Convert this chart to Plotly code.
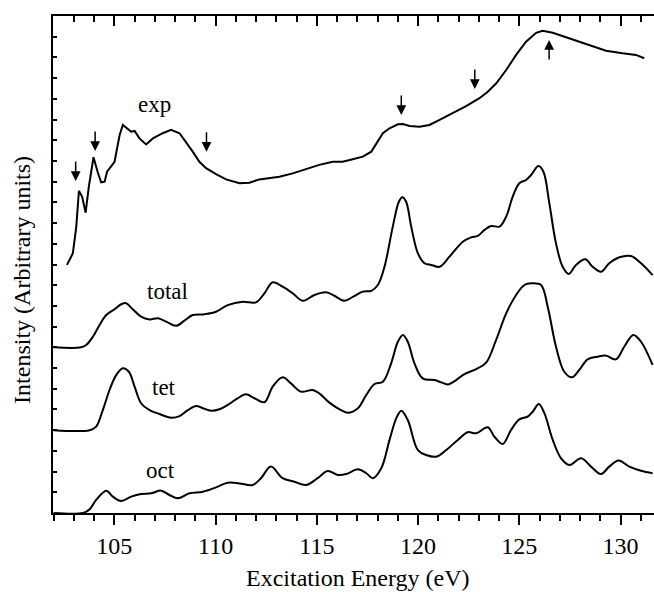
import plotly.graph_objects as go

# ---------------- data (energy in eV, intensity in arbitrary units) ----------------
exp_E = [102.66, 102.95, 103.12, 103.25, 103.41, 103.58, 103.74, 103.97, 104.19, 104.35,
         104.52, 104.64, 105.01, 105.17, 105.26, 105.42, 105.62, 105.83, 106.00, 106.24,
         106.57, 106.90, 107.39, 107.80, 108.22, 108.54, 108.87, 109.20, 109.53, 110.02,
         110.52, 111.18, 111.67, 112.16, 113.15, 113.81, 114.46, 115.12, 115.78, 116.27,
         116.77, 117.27, 117.69, 117.93, 118.26, 118.59, 119.00, 119.25, 119.58, 120.07,
         120.56, 121.06, 121.71, 122.37, 123.03, 123.44, 123.86, 124.35, 124.84, 125.33,
         125.83, 126.15, 126.65, 127.31, 127.96, 128.62, 129.28, 130.10, 130.76, 131.17]
exp_I = [11.98, 12.54, 13.83, 15.56, 15.27, 14.50, 15.76, 17.18, 16.42, 15.97,
         16.00, 16.48, 16.96, 17.69, 18.25, 18.74, 18.58, 18.41, 18.45, 18.09,
         17.80, 18.09, 18.34, 18.50, 18.34, 17.93, 17.45, 16.96, 16.65, 16.36,
         16.11, 15.92, 15.95, 16.11, 16.24, 16.40, 16.60, 16.81, 16.96, 16.96,
         17.08, 17.21, 17.45, 17.85, 18.34, 18.58, 18.77, 18.78, 18.69, 18.65,
         18.74, 18.98, 19.30, 19.65, 20.03, 20.34, 20.75, 21.39, 22.12, 22.76,
         23.19, 23.29, 23.19, 22.97, 22.76, 22.52, 22.32, 22.20, 22.12, 21.96]

total_E = [102.0, 103.36, 103.61, 103.94, 104.27, 104.60, 105.01, 105.34, 105.58, 105.91,
           106.32, 106.74, 107.15, 107.56, 108.05, 108.46, 108.87, 109.45, 110.02, 110.60,
           111.34, 111.99, 112.41, 112.82, 113.31, 113.81, 114.30, 114.88, 115.45, 115.86,
           116.36, 116.80, 117.27, 117.69, 118.01, 118.34, 118.75, 119.05, 119.22, 119.41,
           119.66, 119.99, 120.32, 120.65, 121.06, 121.55, 122.21, 122.62, 122.95, 123.28,
           123.61, 124.02, 124.35, 124.67, 125.00, 125.33, 125.58, 125.94, 126.19, 126.48,
           126.81, 127.14, 127.44, 127.80, 128.26, 128.62, 129.03, 129.44, 129.94, 130.51,
           131.01, 131.58]
total_I = [0.0, 0.0, 0.11, 0.51, 1.08, 1.56, 1.84, 2.08, 2.13, 1.84,
           1.48, 1.35, 1.40, 1.24, 1.04, 1.29, 1.56, 1.60, 1.72, 2.04,
           2.20, 2.17, 2.61, 3.14, 2.93, 2.61, 2.25, 2.53, 2.66, 2.49,
           2.25, 2.45, 2.69, 2.73, 3.01, 3.89, 5.83, 7.03, 7.25, 7.03,
           5.83, 4.54, 4.06, 3.98, 3.89, 4.38, 5.10, 5.31, 5.38, 5.67,
           5.86, 5.83, 6.31, 7.27, 7.92, 8.08, 8.32, 8.76, 8.48, 6.96,
           5.02, 3.89, 3.54, 3.98, 4.25, 3.89, 3.65, 4.06, 4.35, 4.41,
           4.06, 3.49]

tet_E = [102.0, 103.78, 104.10, 104.43, 104.76, 105.09, 105.42, 105.72, 106.00, 106.32,
         106.74, 107.23, 107.80, 108.22, 108.63, 109.04, 109.37, 109.78, 110.19, 110.60,
         111.09, 111.50, 111.92, 112.41, 112.82, 113.31, 113.72, 114.21, 114.79, 115.12,
         115.62, 116.19, 116.53, 117.03, 117.44, 117.85, 118.26, 118.67, 119.00, 119.25,
         119.49, 119.82, 120.23, 120.81, 121.14, 121.47, 121.88, 122.29, 122.87, 123.36,
         123.85, 124.35, 124.84, 125.25, 125.58, 126.07, 126.40, 126.81, 127.22, 127.60,
         127.96, 128.37, 128.87, 129.28, 129.77, 130.18, 130.63, 131.01, 131.58]
tet_I = [0.0, 0.0, 0.17, 0.97, 1.94, 2.66, 2.99, 2.82, 2.10, 1.30,
         0.97, 0.78, 0.60, 0.68, 0.97, 1.17, 1.06, 0.94, 1.01, 1.22,
         1.54, 1.73, 1.54, 1.35, 2.10, 2.55, 2.26, 1.86, 1.94, 1.78,
         1.33, 0.97, 0.84, 1.06, 1.70, 2.23, 2.34, 3.23, 4.27, 4.60,
         4.27, 3.23, 2.50, 2.42, 2.31, 2.21, 2.42, 2.71, 2.95, 3.26,
         4.35, 5.64, 6.53, 7.01, 7.09, 7.01, 5.96, 4.03, 2.82, 2.55,
         2.91, 3.42, 3.55, 3.60, 3.42, 4.03, 4.60, 4.27, 3.15]

oct_E = [102.0, 103.45, 103.78, 104.10, 104.60, 104.93, 105.34, 105.83, 106.32, 106.82,
         107.31, 107.72, 108.13, 108.71, 109.37, 110.02, 110.60, 111.18, 111.83, 112.24,
         112.73, 113.31, 113.89, 114.46, 115.04, 115.53, 116.03, 116.45, 117.03, 117.44,
         117.77, 118.18, 118.59, 118.92, 119.17, 119.49, 119.99, 120.40, 120.89, 121.39,
         121.96, 122.45, 122.87, 123.44, 123.77, 124.18, 124.59, 125.00, 125.41, 125.66,
         125.96, 126.24, 126.65, 127.06, 127.47, 128.05, 128.54, 129.03, 129.44, 129.90,
         130.43, 131.01, 131.58]
oct_I = [0.0, 0.0, 0.18, 0.63, 1.08, 0.79, 0.58, 0.79, 0.92, 0.95,
         1.08, 0.87, 0.71, 0.95, 1.03, 1.24, 1.46, 1.43, 1.35, 1.68,
         2.24, 1.68, 1.51, 1.35, 1.68, 2.03, 1.84, 1.88, 2.11, 1.92,
         1.68, 2.16, 3.53, 4.57, 4.94, 4.49, 3.04, 2.80, 2.72, 3.04,
         3.53, 3.90, 3.85, 4.14, 3.68, 3.33, 4.01, 4.52, 4.65, 4.89,
         5.26, 4.81, 3.53, 2.64, 2.32, 2.64, 2.24, 1.88, 2.24, 2.53,
         2.24, 2.04, 1.92]

offsets = {"total": 8.0, "tet": 4.0, "oct": 0.0}

# curve labels: (text, energy, intensity)
labels = [("exp", 107.0, 19.75), ("total", 107.64, 10.71),
          ("tet", 107.44, 6.04), ("oct", 107.29, 2.06)]

# arrows on experimental curve: energy, tip intensity, direction (1 = down, -1 = up)
arrow_E = [103.09, 104.05, 109.55, 119.17, 122.80, 126.47]
arrow_I = [16.03, 17.48, 17.45, 19.22, 20.47, 22.84]
arrow_dir = [1, 1, 1, 1, 1, -1]

x_ticks = [105, 110, 115, 120, 125, 130]

# ---------------- figure ----------------
FONT = "Liberation Serif"
fig = go.Figure()
line = dict(color="black", width=2)
smooth = dict(color="black", width=2, shape="spline", smoothing=1.0)

fig.add_trace(go.Scatter(x=exp_E, y=exp_I, mode="lines", line=line, hoverinfo="skip"))
fig.add_trace(go.Scatter(x=total_E, y=[v + offsets["total"] for v in total_I], mode="lines",
                         line=smooth))
fig.add_trace(go.Scatter(x=tet_E, y=[v + offsets["tet"] for v in tet_I], mode="lines",
                         line=smooth))
fig.add_trace(go.Scatter(x=oct_E, y=[v + offsets["oct"] for v in oct_I], mode="lines",
                         line=smooth))

annotations = []
for txt, ex, iy in labels:
    annotations.append(dict(x=ex, y=iy, xref="x", yref="y", text=txt, showarrow=False,
                            font=dict(family=FONT, size=23, color="black"),
                            xanchor="center", yanchor="middle"))
for ex, iy, d in zip(arrow_E, arrow_I, arrow_dir):
    annotations.append(dict(x=ex, y=iy, xref="x", yref="y", text="", showarrow=True,
                            ax=0, ay=-21 * d, arrowhead=2, arrowsize=1.3, arrowwidth=1.5,
                            arrowcolor="black", standoff=0))
annotations.append(dict(x=0.506, y=-0.131, xref="paper", yref="paper",
                        text="Excitation Energy (eV)", showarrow=False,
                        font=dict(family=FONT, size=24, color="black"),
                        xanchor="center", yanchor="middle"))
annotations.append(dict(x=-0.0516, y=0.469, xref="paper", yref="paper",
                        text="Intensity (Arbitrary units)", showarrow=False, textangle=-90,
                        font=dict(family=FONT, size=24, color="black"),
                        xanchor="center", yanchor="middle"))

xr = [101.97, 131.65]
fig.update_layout(
    width=654, height=592,
    margin=dict(l=53, r=0, t=16, b=79),
    paper_bgcolor="white", plot_bgcolor="white",
    showlegend=False,
    font=dict(family=FONT, size=24, color="black"),
    annotations=annotations,
    xaxis=dict(range=xr, tickvals=x_ticks, ticks="outside", ticklen=10, tickwidth=2,
               tickcolor="black", showline=True, linewidth=2, linecolor="black",
               showgrid=False, zeroline=False,
               minor=dict(dtick=1, ticks="outside", ticklen=6, tickwidth=2,
                          tickcolor="black", showgrid=False),
               tickfont=dict(family=FONT, size=24, color="black")),
    xaxis2=dict(range=xr, overlaying="x", side="top", tickvals=x_ticks, ticks="inside",
                ticklen=10, tickwidth=2, tickcolor="black", showline=True, linewidth=2,
                linecolor="black", showgrid=False, zeroline=False, showticklabels=False,
                minor=dict(dtick=1, ticks="inside", ticklen=6, tickwidth=2,
                           tickcolor="black", showgrid=False)),
    yaxis=dict(range=[0, 24], dtick=1, ticks="inside", ticklen=4, tickwidth=2,
               tickcolor="black", showline=True, linewidth=2, linecolor="black",
               showgrid=False, zeroline=False, showticklabels=False),
)
# invisible trace to activate the top axis
fig.add_trace(go.Scatter(x=xr, y=[None, None], xaxis="x2", mode="lines", hoverinfo="skip"))

fig.write_html("out.html", config={"displayModeBar": False},
               post_script="document.body.style.margin='0';")
